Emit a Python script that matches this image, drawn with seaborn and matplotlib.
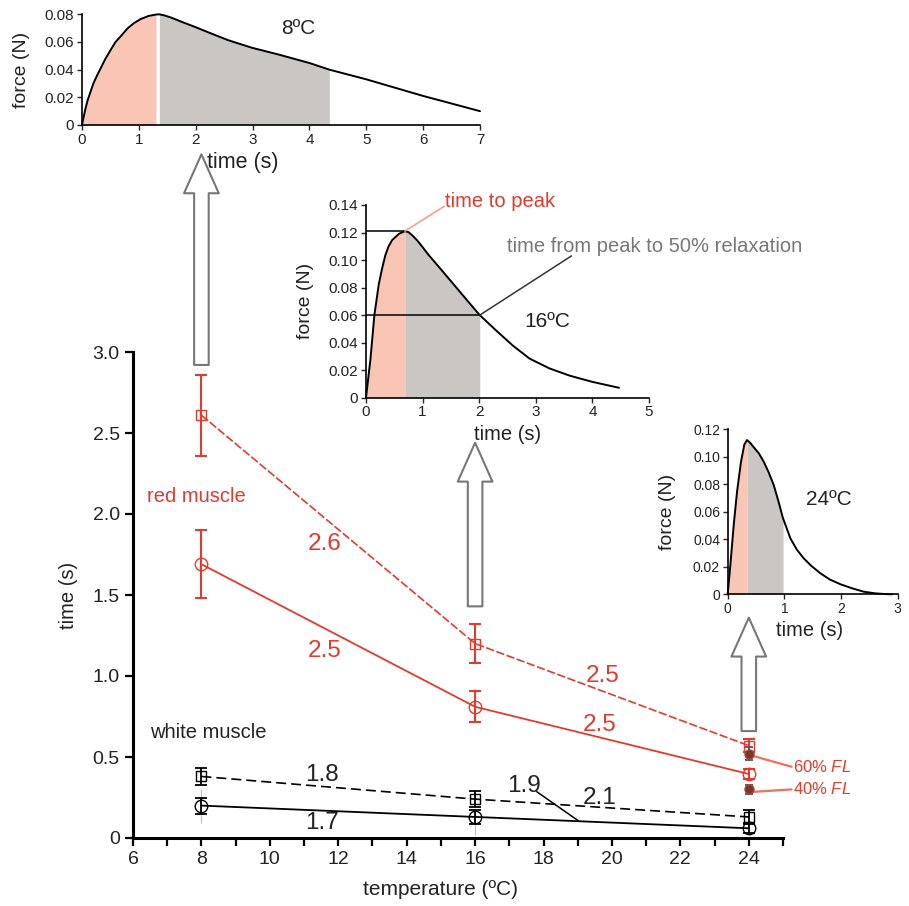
import numpy as np
import pandas as pd
import matplotlib
matplotlib.use("Agg")
import matplotlib.pyplot as plt
import seaborn as sns

# main panel data: time to peak (circles, solid) and peak-to-50%-relaxation (squares, dashed)
temps = [8, 16, 24]
red_relax = [2.61, 1.20, 0.57]
red_relax_err = [0.25, 0.12, 0.04]
red_peak = [1.69, 0.81, 0.395]
red_peak_err = [0.21, 0.095, 0.03]
white_relax = [0.38, 0.24, 0.13]
white_relax_err = [0.05, 0.05, 0.045]
white_peak = [0.20, 0.13, 0.06]
white_peak_err = [0.05, 0.045, 0.03]

# faint grey bars behind the white muscle points
grey_temps = [8, 16]
grey_lo = [0.09, 0.02]
grey_hi = [0.30, 0.17]

# red muscle at other fibre lengths (24 C only)
fl_labels = ["60% $\\mathit{FL}$", "40% $\\mathit{FL}$"]
fl_vals = [0.52, 0.30]
fl_err = [0.04, 0.03]

# Q10 labels
q10_red = ["2.6", "2.5", "2.5", "2.5"]
q10_white = ["1.8", "1.7", "1.9", "2.1"]

# twitch traces
t8 = [0, 0.03, 0.06, 0.1, 0.148, 0.2, 0.266, 0.34, 0.414, 0.5, 0.59, 0.7, 0.8, 0.92, 1.035, 1.17, 1.3, 1.36,
      1.45, 1.57, 1.75, 1.98, 2.25, 2.57, 2.99, 3.46, 4.0, 4.35, 5.0, 5.5, 6.0, 6.5, 7.0]
f8 = [0, 0.006, 0.0116, 0.018, 0.0238, 0.030, 0.0359, 0.042, 0.048, 0.054, 0.060, 0.065, 0.0698, 0.0738, 0.0766,
      0.0788, 0.0798, 0.080, 0.0792, 0.0776, 0.0746, 0.071, 0.0665, 0.0613, 0.0558, 0.0509, 0.0448, 0.040,
      0.033, 0.027, 0.021, 0.0155, 0.010]
t16 = [0, 0.036, 0.077, 0.148, 0.225, 0.285, 0.343, 0.4, 0.462, 0.58, 0.686, 0.75, 0.817, 0.9, 0.994, 1.1, 1.23,
       1.527, 1.82, 2.01, 2.3, 2.59, 2.89, 3.24, 3.6, 4.0, 4.47]
f16 = [0, 0.0129, 0.0273, 0.060, 0.0822, 0.094, 0.1037, 0.110, 0.1145, 0.119, 0.121, 0.1203, 0.118, 0.1145,
       0.1097, 0.104, 0.0978, 0.0834, 0.0691, 0.060, 0.0488, 0.038, 0.0284, 0.0213, 0.016, 0.0115, 0.0072]
t24 = [0, 0.047, 0.106, 0.165, 0.235, 0.294, 0.341, 0.4, 0.459, 0.55, 0.635, 0.72, 0.812, 0.9, 0.976, 1.106,
       1.22, 1.34, 1.48, 1.635, 1.8, 1.99, 2.2, 2.4, 2.6, 2.81, 2.9]
f24 = [0, 0.0213, 0.0504, 0.0747, 0.0965, 0.109, 0.1122, 0.110, 0.107, 0.1025, 0.0965, 0.089, 0.0795, 0.067,
       0.0553, 0.0407, 0.0325, 0.0262, 0.0205, 0.0153, 0.0108, 0.0073, 0.0043, 0.0019, 0.0007, 0.0001, 0.0]
tpeak = [1.33, 0.686, 0.341]
thalf = [4.35, 2.01, 0.976]

RED = "#e23a2c"
PINK = "#f9c5b5"
GREY = "#c9c6c4"
INK = "#222222"

sns.set_style("ticks")
plt.rcParams["font.family"] = ["Liberation Sans", "DejaVu Sans"]
plt.rcParams["mathtext.fontset"] = "custom"
plt.rcParams["mathtext.it"] = "Liberation Sans:italic"

fig = plt.figure(figsize=(9.09, 9.06), dpi=100)
W, H = 909, 906

# ---------- main panel ----------
ax = fig.add_axes([133 / W, 1 - 838 / H, 650 / W, 486 / H])
df = pd.DataFrame({"temp": temps, "red_relax": red_relax, "red_peak": red_peak,
                   "white_relax": white_relax, "white_peak": white_peak})

ax.vlines(grey_temps, grey_lo, grey_hi, color="#bbbbbb", lw=0.8, zorder=1)

sns.lineplot(data=df, x="temp", y="red_relax", ax=ax, color=RED, lw=1.2, linestyle=(0, (5, 1.5)))
sns.lineplot(data=df, x="temp", y="red_peak", ax=ax, color=RED, lw=1.3)
sns.lineplot(data=df, x="temp", y="white_relax", ax=ax, color="k", lw=1.2, linestyle=(0, (6, 3)))
sns.lineplot(data=df, x="temp", y="white_peak", ax=ax, color="k", lw=1.3)

ax.errorbar(temps, red_relax, yerr=red_relax_err, fmt="s", ms=7, mfc="none", mec=RED,
            ecolor=RED, elinewidth=1.5, capsize=4, capthick=1.5, zorder=4)
ax.errorbar(temps, red_peak, yerr=red_peak_err, fmt="o", ms=9, mfc="none", mec=RED,
            ecolor=RED, elinewidth=1.5, capsize=4, capthick=1.5, zorder=4)
ax.errorbar(temps, white_relax, yerr=white_relax_err, fmt="s", ms=7, mfc="none", mec="k",
            ecolor="k", elinewidth=1.3, capsize=4, capthick=1.3, zorder=4)
ax.errorbar(temps, white_peak, yerr=white_peak_err, fmt="o", ms=9, mfc="none", mec="k",
            ecolor="k", elinewidth=1.3, capsize=4, capthick=1.3, zorder=4)
ax.errorbar([24, 24], fl_vals, yerr=fl_err, fmt="o", ms=6.5, mfc="#7e3426", mec="#9a4a3a",
            ecolor="#555555", elinewidth=1.3, capsize=3, capthick=1.3, zorder=5)

ax.set_xlim(6, 25)
ax.set_ylim(0, 3.0)
ax.set_xticks(range(6, 26))
ax.set_xticklabels([str(v) if v % 2 == 0 and v < 25 else "" for v in range(6, 26)])
ax.set_yticks([0, 0.5, 1.0, 1.5, 2.0, 2.5, 3.0])
ax.set_yticklabels(["0", "0.5", "1.0", "1.5", "2.0", "2.5", "3.0"])
ax.tick_params(labelsize=14, width=1.6, length=6, color="k", labelcolor=INK)
for s in ["left", "bottom"]:
    ax.spines[s].set_linewidth(2.2)
    ax.spines[s].set_color("k")
sns.despine(ax=ax)
ax.set_xlabel("temperature (ºC)", fontsize=15, color=INK)
ax.set_ylabel("time (s)", fontsize=14.5, color=INK)
ax.xaxis.set_label_coords((440 - 133) / 650, -42 / 486)
ax.yaxis.set_label_coords(-55 / 650, 0.5)

ax.text(6.41, 2.11, "red muscle", color=RED, fontsize=14.5, va="center", ha="left")
ax.text(6.5, 0.65, "white muscle", color=INK, fontsize=14.5, va="center", ha="left")
for (x, y), s in zip([(11.6, 1.817), (11.6, 1.152), (19.74, 1.0), (19.65, 0.70)], q10_red):
    ax.text(x, y, s, color=RED, fontsize=17.5, ha="center", va="center")
for (x, y), s in zip([(11.52, 0.39), (11.52, 0.093), (17.43, 0.32), (19.65, 0.25)], q10_white):
    ax.text(x, y, s, color=INK, fontsize=17.5, ha="center", va="center")
ax.plot([17.8, 19.02], [0.286, 0.106], color="k", lw=1.1)

for s, y0, y1 in zip(fl_labels, fl_vals, [0.44, 0.30]):
    ax.plot([24.15, 25.25], [y0 - 0.015, y1], color="#f07060", lw=1.6, clip_on=False)
    ax.text(25.3, y1, s, color=RED, fontsize=12, va="center", ha="left")

# hollow arrows linking temperatures to traces
for x, y0, y1 in [(8, 2.92, 4.22), (16, 1.43, 2.44), (24, 0.66, 1.36)]:
    ax.annotate("", xy=(x, y1), xytext=(x, y0), xycoords="data",
                arrowprops=dict(arrowstyle="simple,head_length=2.8,head_width=2.5,tail_width=1.05",
                                mutation_scale=10, fc="white", ec="#777777", lw=1.5,
                                shrinkA=0, shrinkB=0), annotation_clip=False)

# ---------- insets ----------
insets = [
    (t8, f8, [82, 125, 398, 110.7], 7, 0.08, [0, 0.02, 0.04, 0.06, 0.08], range(0, 8), 0.405, 15.5, 11, "8ºC", (3.8, 0.070)),
    (t16, f16, [366, 397.7, 283, 192.7], 5, 0.14, [0, 0.02, 0.04, 0.06, 0.08, 0.10, 0.12, 0.14], range(0, 6), 0.50, 14.5, 11, "16ºC", (3.2, 0.055)),
    (t24, f24, [727.7, 594.3, 170, 165], 3, 0.12, [0, 0.02, 0.04, 0.06, 0.08, 0.10, 0.12], range(0, 4), 0.48, 14.5, 10, "24ºC", (1.79, 0.0686)),
]
inset_axes = []
for i, (t, f, box, xmax, ymax, yt, xt, xlab_pos, xlab_fs, tick_fs, lab, lab_xy) in enumerate(insets):
    left, bottom, w, h = box
    iax = fig.add_axes([left / W, 1 - bottom / H, w / W, h / H])
    t = np.array(t)
    f = np.array(f)
    iax.fill_between(t, 0, f, where=t <= tpeak[i], color=PINK, lw=0)
    iax.fill_between(t, 0, f, where=(t >= tpeak[i]) & (t <= thalf[i]), color=GREY, lw=0)
    sns.lineplot(x=t, y=f, ax=iax, color="k", lw=1.4, clip_on=False)
    iax.set_xlim(0, xmax)
    iax.set_ylim(0, ymax)
    iax.set_xticks(list(xt))
    iax.set_yticks(yt)
    iax.set_yticklabels(["0"] + [f"{v:.2f}" for v in yt[1:]])
    iax.tick_params(labelsize=tick_fs, length=3.5, width=1, pad=2, labelcolor=INK)
    for s in ["left", "bottom"]:
        iax.spines[s].set_linewidth(1.2)
        iax.spines[s].set_color("k")
    sns.despine(ax=iax)
    iax.set_xlabel("time (s)", fontsize=xlab_fs, color=INK)
    iax.set_ylabel("force (N)", fontsize=14, color=INK)
    iax.xaxis.set_label_coords(xlab_pos, -27 / h)
    iax.yaxis.set_label_coords(-52 / w, 0.5)
    iax.text(lab_xy[0], lab_xy[1], lab, fontsize=15, ha="center", va="center", color=INK)
    inset_axes.append(iax)

# annotations on 16 C trace
iax = inset_axes[1]
iax.plot([0, 0.686], [0.121, 0.121], color="k", lw=1.1)
iax.plot([0, 2.01], [0.06, 0.06], color="k", lw=1.1)
iax.plot([0.686, 1.38], [0.121, 0.139], color="#f4a08a", lw=1.2, clip_on=False)
iax.text(1.40, 0.1425, "time to peak", color=RED, fontsize=14.5, va="center", ha="left")
iax.plot([2.01, 3.63], [0.06, 0.103], color="#333333", lw=1.1, clip_on=False)
iax.text(2.49, 0.110, "time from peak to 50% relaxation", color="#777777", fontsize=14.5,
         va="center", ha="left")

fig.savefig("out.png", dpi=100)
